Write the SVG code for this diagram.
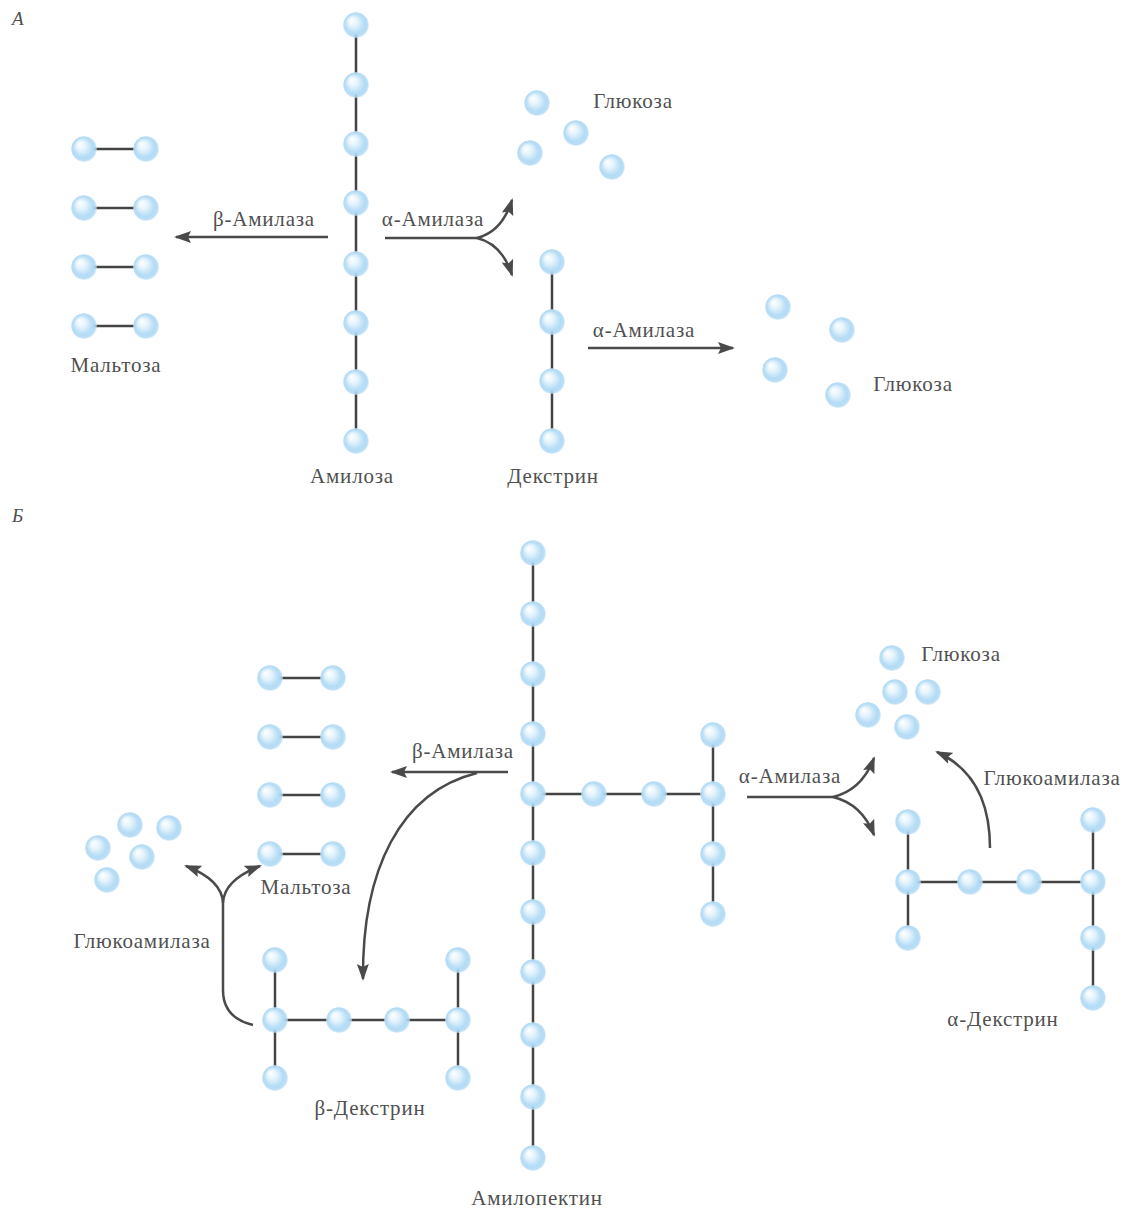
<svg xmlns="http://www.w3.org/2000/svg" xmlns:xlink="http://www.w3.org/1999/xlink" width="1126" height="1212" viewBox="0 0 1126 1212">
<defs>
<radialGradient id="g" cx="0.5" cy="0.5" r="0.5" fx="0.32" fy="0.3">
<stop offset="0" stop-color="#ffffff"/>
<stop offset="0.35" stop-color="#e6f4fc"/>
<stop offset="0.75" stop-color="#b4dcf5"/>
<stop offset="0.92" stop-color="#aed8f4" stop-opacity="0.85"/>
<stop offset="1" stop-color="#cfe8f8" stop-opacity="0.5"/>
</radialGradient>
<circle id="b" r="13" fill="url(#g)"/>
<marker id="ah" markerUnits="userSpaceOnUse" markerWidth="18" markerHeight="14" refX="15" refY="6" orient="auto" viewBox="0 0 18 12">
<path d="M0,0 L17,6 L0,12 L3,6 z" fill="#4a4a4a"/>
</marker>
</defs>
<style>
.t{font-family:"Liberation Serif","DejaVu Serif",serif;font-size:21px;letter-spacing:0.8px;fill:#505050;text-anchor:middle}
.lbl{font-family:"Liberation Serif","DejaVu Serif",serif;font-size:19px;font-style:italic;fill:#505050}
.ln{stroke:#444;stroke-width:2.5;fill:none}
.ar{stroke:#4a4a4a;stroke-width:2.5;fill:none}
.arm{stroke:#4a4a4a;stroke-width:2.5;fill:none;marker-end:url(#ah)}
</style>
<rect width="1126" height="1212" fill="#ffffff"/>
<text class="lbl" x="12" y="25">А</text>
<text class="lbl" x="12" y="522">Б</text>

<g id="connectors">
<!-- A -->
<path class="arm" d="M328,237 L176,237"/>
<path class="ar" d="M385,238 L477,238"/>
<path class="arm" d="M477,238 Q502,232 512,200"/>
<path class="arm" d="M477,238 Q502,244 512,275"/>
<path class="arm" d="M588,348 L733,348"/>
<!-- B -->
<path class="arm" d="M508,772 L392,772"/>
<path class="arm" d="M477,773 C400,792 362,870 363,979"/>
<path class="ar" d="M253,1025 C232,1020 223,1008 223,990 L223,903"/>
<path class="arm" d="M223,903 Q222,880 186,866"/>
<path class="arm" d="M223,903 Q224,880 260,866"/>
<path class="ar" d="M747,797 L833,797"/>
<path class="arm" d="M833,797 Q862,790 874,758"/>
<path class="arm" d="M833,797 Q862,804 874,835"/>
<path class="arm" d="M990,848 C990,800 972,768 937,752"/>
</g>

<g id="amylose">
<line class="ln" x1="356" y1="25" x2="356" y2="441"/>
<use href="#b" x="356" y="25"/><use href="#b" x="356" y="85"/><use href="#b" x="356" y="144"/><use href="#b" x="356" y="203"/>
<use href="#b" x="356" y="264"/><use href="#b" x="356" y="323"/><use href="#b" x="356" y="382"/><use href="#b" x="356" y="441"/>
<text class="t" x="352" y="483">Амилоза</text>
</g>

<g id="maltose-a">
<line class="ln" x1="84" y1="149" x2="146" y2="149"/><line class="ln" x1="84" y1="208" x2="146" y2="208"/>
<line class="ln" x1="84" y1="267" x2="146" y2="267"/><line class="ln" x1="84" y1="326" x2="146" y2="326"/>
<use href="#b" x="84" y="149"/><use href="#b" x="146" y="149"/>
<use href="#b" x="84" y="208"/><use href="#b" x="146" y="208"/>
<use href="#b" x="84" y="267"/><use href="#b" x="146" y="267"/>
<use href="#b" x="84" y="326"/><use href="#b" x="146" y="326"/>
<text class="t" x="116" y="372">Мальтоза</text>
</g>

<g id="glucose-a1">
<use href="#b" x="537" y="103"/><use href="#b" x="576" y="133"/><use href="#b" x="530" y="153"/><use href="#b" x="612" y="167"/>
<text class="t" x="633" y="108">Глюкоза</text>
</g>

<g id="dextrin">
<line class="ln" x1="552" y1="262" x2="552" y2="441"/>
<use href="#b" x="552" y="262"/><use href="#b" x="552" y="322"/><use href="#b" x="552" y="381"/><use href="#b" x="552" y="441"/>
<text class="t" x="553" y="483">Декстрин</text>
</g>

<g id="glucose-a2">
<use href="#b" x="778" y="307"/><use href="#b" x="842" y="330"/><use href="#b" x="775" y="370"/><use href="#b" x="838" y="395"/>
<text class="t" x="913" y="391">Глюкоза</text>
</g>

<g id="enzyme-labels-a">
<text class="t" x="264" y="226">β-Амилаза</text>
<text class="t" x="433" y="226">α-Амилаза</text>
<text class="t" x="644" y="337">α-Амилаза</text>
</g>

<g id="amylopectin">
<line class="ln" x1="533" y1="553" x2="533" y2="1158"/>
<line class="ln" x1="533" y1="794" x2="713" y2="794"/>
<line class="ln" x1="713" y1="735" x2="713" y2="914"/>
<use href="#b" x="533" y="553"/><use href="#b" x="533" y="614"/><use href="#b" x="533" y="674"/><use href="#b" x="533" y="734"/>
<use href="#b" x="533" y="794"/><use href="#b" x="533" y="853"/><use href="#b" x="533" y="912"/><use href="#b" x="533" y="972"/>
<use href="#b" x="533" y="1035"/><use href="#b" x="533" y="1097"/><use href="#b" x="533" y="1158"/>
<use href="#b" x="594" y="794"/><use href="#b" x="654" y="794"/>
<use href="#b" x="713" y="735"/><use href="#b" x="713" y="794"/><use href="#b" x="713" y="854"/><use href="#b" x="713" y="914"/>
<text class="t" x="537" y="1205">Амилопектин</text>
</g>

<g id="maltose-b">
<line class="ln" x1="270" y1="678" x2="333" y2="678"/><line class="ln" x1="270" y1="737" x2="333" y2="737"/>
<line class="ln" x1="270" y1="795" x2="333" y2="795"/><line class="ln" x1="270" y1="854" x2="333" y2="854"/>
<use href="#b" x="270" y="678"/><use href="#b" x="333" y="678"/>
<use href="#b" x="270" y="737"/><use href="#b" x="333" y="737"/>
<use href="#b" x="270" y="795"/><use href="#b" x="333" y="795"/>
<use href="#b" x="270" y="854"/><use href="#b" x="333" y="854"/>
<text class="t" x="306" y="894">Мальтоза</text>
</g>

<g id="glucose-b1">
<use href="#b" x="130" y="825"/><use href="#b" x="169" y="828"/><use href="#b" x="98" y="848"/><use href="#b" x="142" y="857"/><use href="#b" x="107" y="880"/>
</g>

<g id="beta-dextrin">
<line class="ln" x1="275" y1="960" x2="275" y2="1078"/>
<line class="ln" x1="275" y1="1020" x2="458" y2="1020"/>
<line class="ln" x1="458" y1="960" x2="458" y2="1078"/>
<use href="#b" x="275" y="960"/><use href="#b" x="275" y="1020"/><use href="#b" x="275" y="1078"/>
<use href="#b" x="339" y="1020"/><use href="#b" x="397" y="1020"/>
<use href="#b" x="458" y="960"/><use href="#b" x="458" y="1020"/><use href="#b" x="458" y="1078"/>
<text class="t" x="370" y="1115">β-Декстрин</text>
</g>

<g id="glucose-b2">
<use href="#b" x="892" y="658"/><use href="#b" x="895" y="692"/><use href="#b" x="928" y="692"/><use href="#b" x="868" y="715"/><use href="#b" x="907" y="727"/>
<text class="t" x="961" y="661">Глюкоза</text>
</g>

<g id="alpha-dextrin">
<line class="ln" x1="908" y1="822" x2="908" y2="938"/>
<line class="ln" x1="908" y1="882" x2="1093" y2="882"/>
<line class="ln" x1="1093" y1="820" x2="1093" y2="998"/>
<use href="#b" x="908" y="822"/><use href="#b" x="908" y="882"/><use href="#b" x="908" y="938"/>
<use href="#b" x="970" y="882"/><use href="#b" x="1029" y="882"/>
<use href="#b" x="1093" y="820"/><use href="#b" x="1093" y="882"/><use href="#b" x="1093" y="938"/><use href="#b" x="1093" y="998"/>
<text class="t" x="1003" y="1026">α-Декстрин</text>
</g>

<g id="enzyme-labels-b">
<text class="t" x="463" y="758">β-Амилаза</text>
<text class="t" x="142" y="948">Глюкоамилаза</text>
<text class="t" x="790" y="783">α-Амилаза</text>
<text class="t" x="1052" y="785">Глюкоамилаза</text>
</g>
</svg>
